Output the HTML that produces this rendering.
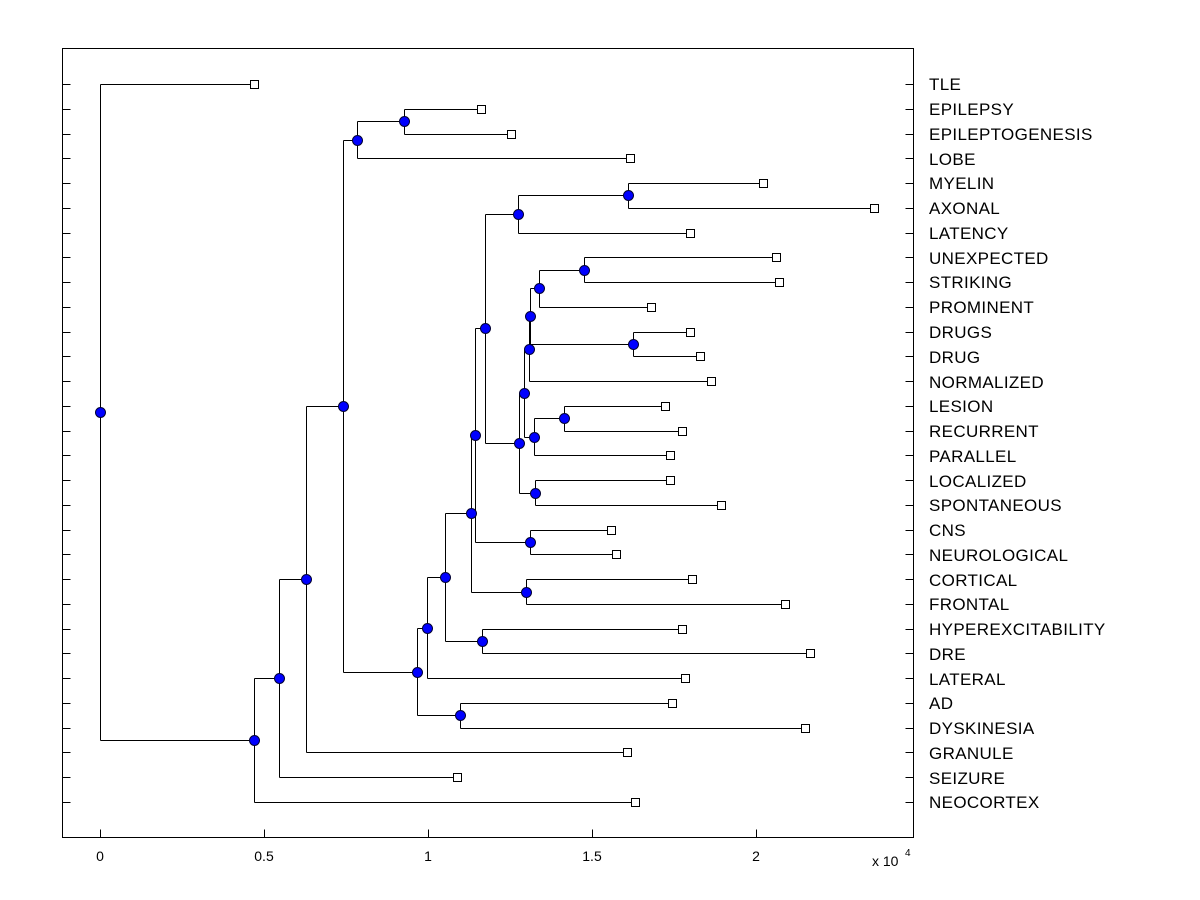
<!DOCTYPE html>
<html><head><meta charset="utf-8"><style>
body{margin:0;background:#fff}
svg{display:block}
text{font-family:"Liberation Sans",Arial,sans-serif;font-size:16px;fill:#000}
#lab text{font-size:17px;letter-spacing:0.35px}
</style></head><body>
<svg id="s" width="1200" height="900" xmlns="http://www.w3.org/2000/svg">
<rect x="62.5" y="48.5" width="851" height="789" fill="#fff" stroke="#000" stroke-width="1"/>
<g id="g" stroke="#000" stroke-width="1" fill="none"></g>
<g id="m"></g>
<g id="lab">
<text x="929" y="90">TLE</text>
<text x="929" y="115">EPILEPSY</text>
<text x="929" y="140">EPILEPTOGENESIS</text>
<text x="929" y="165">LOBE</text>
<text x="929" y="189">MYELIN</text>
<text x="929" y="214">AXONAL</text>
<text x="929" y="239">LATENCY</text>
<text x="929" y="264">UNEXPECTED</text>
<text x="929" y="288">STRIKING</text>
<text x="929" y="313">PROMINENT</text>
<text x="929" y="338">DRUGS</text>
<text x="929" y="363">DRUG</text>
<text x="929" y="388">NORMALIZED</text>
<text x="929" y="412">LESION</text>
<text x="929" y="437">RECURRENT</text>
<text x="929" y="462">PARALLEL</text>
<text x="929" y="487">LOCALIZED</text>
<text x="929" y="511">SPONTANEOUS</text>
<text x="929" y="536">CNS</text>
<text x="929" y="561">NEUROLOGICAL</text>
<text x="929" y="586">CORTICAL</text>
<text x="929" y="610">FRONTAL</text>
<text x="929" y="635">HYPEREXCITABILITY</text>
<text x="929" y="660">DRE</text>
<text x="929" y="685">LATERAL</text>
<text x="929" y="709">AD</text>
<text x="929" y="734">DYSKINESIA</text>
<text x="929" y="759">GRANULE</text>
<text x="929" y="784">SEIZURE</text>
<text x="929" y="808">NEOCORTEX</text>
</g>
<g>
<text x="100" y="861" text-anchor="middle" style="font-size:14px">0</text>
<text x="264" y="861" text-anchor="middle" style="font-size:14px">0.5</text>
<text x="428" y="861" text-anchor="middle" style="font-size:14px">1</text>
<text x="592" y="861" text-anchor="middle" style="font-size:14px">1.5</text>
<text x="756" y="861" text-anchor="middle" style="font-size:14px">2</text>
<text x="872" y="866" style="font-size:14px">x 10</text>
<text x="905" y="856" style="font-size:10px">4</text>
</g>
</svg>
<script>
var leafX=[254,481,511,630,763,874,690,776,779,651,690,700,711,665,682,670,670,721,611,616,692,785,682,810,685,672,805,627,457,635];
function ry(i){return 84+i*(802-84)/29;}
var L=[];for(var i=0;i<30;i++)L.push({x:leafX[i],y:ry(i),leaf:1});
function N(x,a,b){return {x:x,y:(a.y+b.y)/2,a:a,b:b};}
var BB=N(584,L[7],L[8]),Z=N(539,BB,L[9]),AA=N(633,L[10],L[11]),Y=N(530,Z,AA),V=N(529,Y,L[12]);
var X=N(564,L[13],L[14]),W=N(534,X,L[15]),T=N(524,V,W),U=N(535,L[16],L[17]),R=N(519,T,U);
var S=N(628,L[4],L[5]),Q=N(518,S,L[6]),O=N(485,Q,R),P=N(530,L[18],L[19]),M=N(475,O,P);
var Nn=N(526,L[20],L[21]),K=N(471,M,Nn),Ll=N(482,L[22],L[23]),J=N(445,K,Ll),H=N(427,J,L[24]);
var I=N(460,L[25],L[26]),F=N(417,H,I),G=N(404,L[1],L[2]),E=N(357,G,L[3]),D=N(343,E,F);
var C=N(306,D,L[27]),B=N(279,C,L[28]),A=N(254,B,L[29]),root=N(100,L[0],A);
var g=document.getElementById('g'),m=document.getElementById('m'),ns='http://www.w3.org/2000/svg';
function el(p,t,at){var e=document.createElementNS(ns,t);for(var k in at)e.setAttribute(k,at[k]);p.appendChild(e);}
var d='';
for(var i=0;i<30;i++){var y=Math.round(ry(i))+.5;d+='M62.5 '+y+'H70.5M913.5 '+y+'H905.5';}
[100,264,428,592,756].forEach(function(x){d+='M'+(x+.5)+' 837.5V829.5';});
var nodes=[];
function walk(n){if(n.leaf)return;nodes.push(n);var x=Math.round(n.x)+.5;
[n.a,n.b].forEach(function(c){d+='M'+x+' '+(Math.round(c.y)+.5)+'H'+(Math.round(c.x)+.5);});
d+='M'+x+' '+(Math.round(n.a.y)+.5)+'V'+(Math.round(n.b.y)+.5);walk(n.a);walk(n.b);}
walk(root);
el(g,'path',{d:d});
L.forEach(function(l){el(m,'rect',{x:Math.round(l.x)-3.5,y:Math.round(l.y)-3.5,width:8,height:8,fill:'#fff',stroke:'#000'});});
nodes.forEach(function(n){el(m,'circle',{cx:Math.round(n.x)+.5,cy:Math.round(n.y)+.5,r:5,fill:'#0000ff',stroke:'#000033','stroke-width':1});});
</script>
</body></html>
